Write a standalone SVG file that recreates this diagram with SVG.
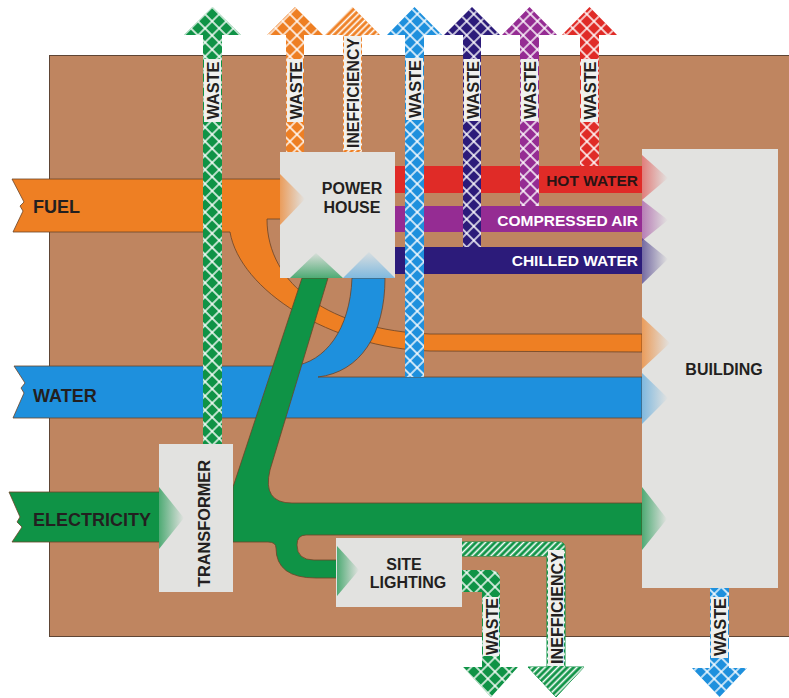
<svg xmlns="http://www.w3.org/2000/svg" width="789" height="698" viewBox="0 0 789 698">
<style>
text{font-family:"Liberation Sans",Arial,sans-serif;font-weight:bold;fill:#231F20}
.wf{fill:#fff}
.box{fill:#E2E2E0}
.lbl{font-size:18px}
.band{font-size:15.5px}
.tag{fill:#F0F0EE}
.wt{font-size:17px}
.xh{fill:url(#xh)}
.st{fill:url(#st)}
.edge{stroke:#6b4427;stroke-width:0.8}
</style>
<defs>
<pattern id="xh" width="10" height="10" patternUnits="userSpaceOnUse" patternTransform="rotate(45)"><path d="M0,5H10M5,0V10" stroke="#fff" stroke-width="1.4"/></pattern>
<pattern id="st" width="4.5" height="4.5" patternUnits="userSpaceOnUse" patternTransform="rotate(-45)"><path d="M0,2.25H4.5" stroke="#fff" stroke-width="1.6"/></pattern>
<linearGradient id="gOr"><stop offset="0" stop-color="#EE7F23" stop-opacity=".7"/><stop offset="1" stop-color="#EE7F23" stop-opacity="0"/></linearGradient>
<linearGradient id="gRd"><stop offset="0" stop-color="#E02B27" stop-opacity=".55"/><stop offset="1" stop-color="#E02B27" stop-opacity="0"/></linearGradient>
<linearGradient id="gPu"><stop offset="0" stop-color="#952C93" stop-opacity=".55"/><stop offset="1" stop-color="#952C93" stop-opacity="0"/></linearGradient>
<linearGradient id="gNv"><stop offset="0" stop-color="#2C1B7A" stop-opacity=".6"/><stop offset="1" stop-color="#2C1B7A" stop-opacity="0"/></linearGradient>
<linearGradient id="gBl"><stop offset="0" stop-color="#1E90DD" stop-opacity=".5"/><stop offset="1" stop-color="#1E90DD" stop-opacity="0"/></linearGradient>
<linearGradient id="gGn"><stop offset="0" stop-color="#0F9346" stop-opacity=".7"/><stop offset="1" stop-color="#0F9346" stop-opacity="0"/></linearGradient>
<linearGradient id="gGnV" x1="0" y1="1" x2="0" y2="0"><stop offset="0" stop-color="#0F9346" stop-opacity=".7"/><stop offset="1" stop-color="#0F9346" stop-opacity=".05"/></linearGradient>
<linearGradient id="gBlV" x1="0" y1="1" x2="0" y2="0"><stop offset="0" stop-color="#1E90DD" stop-opacity=".5"/><stop offset="1" stop-color="#1E90DD" stop-opacity=".05"/></linearGradient>
</defs>
<rect id="ground" x="49.5" y="55.5" width="745" height="581" fill="#BF8560" stroke="#5e4535" stroke-width="1"/>
<g id="connectors">
<path id="fuel" class="edge" fill="#EE7F23" d="M12,179 L300,179 L300,219 L267,219 C267,285 330,330 430,334 L642,334 L642,352 L430,351 C330,348 240,290 230,232 L13,232 L23,211 L20,206 L24,202 Z"/>
<path id="water" class="edge" fill="#1E90DD" d="M14,366 L293,366 C325,362 350,330 352,278 L385,278 C385,335 360,372 318,377 L642,377 L642,418 L13,418 L24,393 L21,388 L25,383 Z"/>
<path id="electricity-in" class="edge" fill="#0F9346" d="M9,492 L165,492 L165,542 L12,542 L22,527 L17,522 L20,517 Z"/>
<path id="electricity-out" class="edge" fill="#0F9346" d="M233,487 L302,278 L328,278 L270,470 Q262,503 292,503 L642,503 L642,535 L306,535 Q297,535 297,545 Q297,560 314,560 L340,560 L340,578 L316,578 Q276,578 276,548 Q276,542 268,542 L233,542 Z"/>
<rect id="hot-water" x="390" y="166" width="252" height="27" fill="#E02B27"/>
<rect id="compressed-air" x="390" y="206" width="252" height="26" fill="#952C93"/>
<rect id="chilled-water" x="390" y="247" width="252" height="27" fill="#2C1B7A"/>

<g id="waste-transformer">
<path fill="#0F9346" d="M203,444 L203,35 L184,35 L212.5,7 L241,35 L222,35 L222,444 Z"/>
<path class="xh" d="M203,444 L203,35 L184,35 L212.5,7 L241,35 L222,35 L222,444 Z"/>
<rect class="tag" x="204" y="59" width="17" height="63"/>
<text class="wt" transform="translate(219,90.5) rotate(-90)" text-anchor="middle" textLength="58" lengthAdjust="spacingAndGlyphs">WASTE</text>
</g>
<g id="waste-power-house">
<path fill="#EE7F23" d="M286,152 L286,35 L267,35 L295,7 L323,35 L304,35 L304,152 Z"/>
<path class="xh" d="M286,152 L286,35 L267,35 L295,7 L323,35 L304,35 L304,152 Z"/>
<rect class="tag" x="287" y="59" width="16" height="63"/>
<text class="wt" transform="translate(301.5,90.5) rotate(-90)" text-anchor="middle" textLength="58" lengthAdjust="spacingAndGlyphs">WASTE</text>
</g>
<g id="inefficiency-power-house">
<path fill="#EE7F23" d="M343,152 L343,35 L325,35 L352.5,7 L380,35 L362,35 L362,152 Z"/>
<path class="st" d="M343,152 L343,35 L325,35 L352.5,7 L380,35 L362,35 L362,152 Z"/>
<rect class="tag" x="344" y="36" width="17" height="114"/>
<text class="wt" transform="translate(359,93) rotate(-90)" text-anchor="middle" textLength="110" lengthAdjust="spacingAndGlyphs">INEFFICIENCY</text>
</g>
<g id="waste-water">
<path fill="#1E90DD" d="M405,377 L405,35 L387,35 L414.5,7 L442,35 L424,35 L424,377 Z"/>
<path class="xh" d="M405,377 L405,35 L387,35 L414.5,7 L442,35 L424,35 L424,377 Z"/>
<rect class="tag" x="406" y="58" width="17" height="62"/>
<text class="wt" transform="translate(421,89) rotate(-90)" text-anchor="middle" textLength="58" lengthAdjust="spacingAndGlyphs">WASTE</text>
</g>
<g id="waste-chilled">
<path fill="#2C1B7A" d="M463,247 L463,35 L444,35 L472,7 L500,35 L481,35 L481,247 Z"/>
<path class="xh" d="M463,247 L463,35 L444,35 L472,7 L500,35 L481,35 L481,247 Z"/>
<rect class="tag" x="464" y="59" width="16" height="62"/>
<text class="wt" transform="translate(478.5,90) rotate(-90)" text-anchor="middle" textLength="58" lengthAdjust="spacingAndGlyphs">WASTE</text>
</g>
<g id="waste-air">
<path fill="#952C93" d="M520,206 L520,35 L502,35 L529.5,7 L557,35 L539,35 L539,206 Z"/>
<path class="xh" d="M520,206 L520,35 L502,35 L529.5,7 L557,35 L539,35 L539,206 Z"/>
<rect class="tag" x="521" y="59" width="17" height="62"/>
<text class="wt" transform="translate(536,90) rotate(-90)" text-anchor="middle" textLength="58" lengthAdjust="spacingAndGlyphs">WASTE</text>
</g>
<g id="waste-hot">
<path fill="#E02B27" d="M580,166 L580,35 L562,35 L589.5,7 L617,35 L599,35 L599,166 Z"/>
<path class="xh" d="M580,166 L580,35 L562,35 L589.5,7 L617,35 L599,35 L599,166 Z"/>
<rect class="tag" x="581" y="59" width="17" height="63"/>
<text class="wt" transform="translate(596,90.5) rotate(-90)" text-anchor="middle" textLength="58" lengthAdjust="spacingAndGlyphs">WASTE</text>
</g>
<g id="waste-lighting">
<path fill="#0F9346" d="M462,570 L490,570 Q500,570 500,580 L500,667 L518,667 L491,697 L463,667 L482,667 L482,592 L462,592 Z"/>
<path class="xh" d="M462,570 L490,570 Q500,570 500,580 L500,667 L518,667 L491,697 L463,667 L482,667 L482,592 L462,592 Z"/>
<rect class="tag" x="483" y="597" width="16" height="59"/>
<text class="wt" transform="translate(497.5,626.5) rotate(-90)" text-anchor="middle" textLength="57" lengthAdjust="spacingAndGlyphs">WASTE</text>
</g>
<g id="inefficiency-lighting">
<path fill="#0F9346" stroke="#0F9346" stroke-width="1" d="M462,542 L559,542 Q565,542 565,548 L565,667 L584,667 L556,697 L528,667 L547,667 L547,556 L462,556 Z"/>
<path class="st" d="M462,542 L559,542 Q565,542 565,548 L565,667 L584,667 L556,697 L528,667 L547,667 L547,556 L462,556 Z"/>
<rect class="tag" x="548" y="550" width="16" height="116"/>
<text class="wt" transform="translate(562.5,608) rotate(-90)" text-anchor="middle" textLength="112" lengthAdjust="spacingAndGlyphs">INEFFICIENCY</text>
</g>
<g id="waste-building">
<path fill="#1E90DD" d="M710,588 L710,668 L692,668 L719.5,697 L747,668 L729,668 L729,588 Z"/>
<path class="xh" d="M710,588 L710,668 L692,668 L719.5,697 L747,668 L729,668 L729,588 Z"/>
<rect class="tag" x="711" y="597" width="17" height="61"/>
<text class="wt" transform="translate(726,627) rotate(-90)" text-anchor="middle" textLength="58" lengthAdjust="spacingAndGlyphs">WASTE</text>
</g>

<text class="lbl" x="33" y="213">FUEL</text>
<text class="lbl" x="33" y="402">WATER</text>
<text class="lbl" x="33" y="526">ELECTRICITY</text>
<text class="band" x="638" y="186" text-anchor="end" style="fill:#2a1414">HOT WATER</text>
<text class="band wf" x="638" y="226" text-anchor="end">COMPRESSED AIR</text>
<text class="band wf" x="638" y="266" text-anchor="end">CHILLED WATER</text>
</g>

<g id="power-house">
<rect class="box" x="280" y="152" width="115" height="126"/>
<polygon fill="url(#gOr)" points="280,174 305,199 280,225"/>
<polygon fill="url(#gGnV)" points="290,278 316,253 343,278"/>
<polygon fill="url(#gBlV)" points="343,278 369,252 395,278"/>
<text x="352" y="194" text-anchor="middle" font-size="16">POWER</text>
<text x="352" y="213" text-anchor="middle" font-size="16">HOUSE</text>
</g>
<g id="transformer">
<rect class="box" x="159" y="444" width="74" height="148"/>
<polygon fill="url(#gGn)" points="159,487 184,518 159,549"/>
<text transform="translate(210,523.5) rotate(-90)" text-anchor="middle" font-size="17" textLength="127" lengthAdjust="spacingAndGlyphs">TRANSFORMER</text>
</g>
<g id="site-lighting">
<rect class="box" x="336" y="538" width="126" height="69"/>
<polygon fill="url(#gGn)" points="337,546 359,570 337,596"/>
<text x="404" y="570" text-anchor="middle" font-size="16">SITE</text>
<text x="408" y="588" text-anchor="middle" font-size="16">LIGHTING</text>
</g>
<g id="building">
<rect class="box" x="642" y="149" width="136" height="439"/>
<polygon fill="url(#gRd)" points="642,155 668,178 642,200"/>
<polygon fill="url(#gPu)" points="642,200 668,220 642,241"/>
<polygon fill="url(#gNv)" points="642,238 668,259 642,284"/>
<polygon fill="url(#gOr)" points="642,317 670,343 642,369"/>
<polygon fill="url(#gBl)" points="642,373 668,398 642,424"/>
<polygon fill="url(#gGn)" points="642,487 667,519 642,550"/>
<text x="724" y="375" text-anchor="middle" font-size="16">BUILDING</text>
</g>
</svg>
